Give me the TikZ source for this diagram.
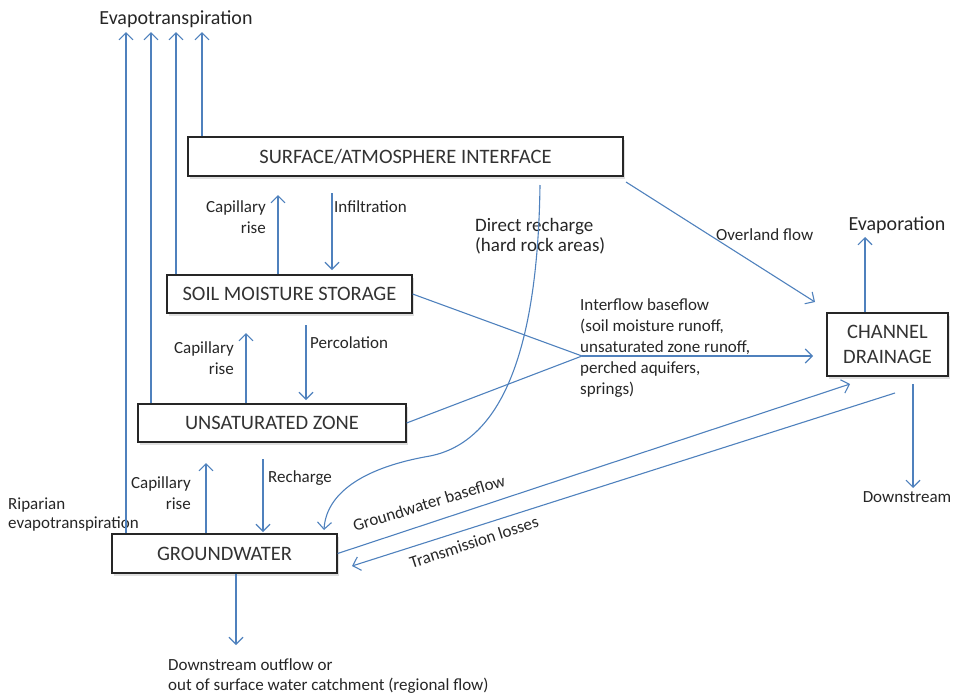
\documentclass[tikz,border=0pt]{standalone}
\usepackage{fontspec}
\setmainfont{Carlito}
\usetikzlibrary{arrows.meta,shadows}
\definecolor{flow}{RGB}{79,129,189}
\begin{document}
\begin{tikzpicture}[x=1pt,y=-1pt,
  box/.style={draw=black!85, line width=1.2pt, fill=white, inner sep=0pt,
    font=\fontsize{20.5}{24}\selectfont, text=black!80, align=center,
    drop shadow={opacity=0.25, shadow xshift=2pt, shadow yshift=-3pt}},
  arr/.style={draw=flow, line width=1.1pt, -{Straight Barb[length=7pt,width=14pt]}},
  ln/.style={draw=flow, line width=1.1pt},
  lab/.style={font=\fontsize{17}{21}\selectfont, text=black!85, inner sep=0pt},
  big/.style={font=\fontsize{20}{22}\selectfont, text=black!85, inner sep=0pt}
]
\useasboundingbox (0,0) rectangle (955,694);

% boxes
\node[box, minimum width=435pt, minimum height=39pt] (surf) at (405.5,156.5) {SURFACE/ATMOSPHERE INTERFACE};
\node[box, minimum width=245pt, minimum height=38pt] (soil) at (289.5,294) {SOIL MOISTURE STORAGE};
\node[box, minimum width=268pt, minimum height=38pt] (unsat) at (272,423) {UNSATURATED ZONE};
\node[box, minimum width=225pt, minimum height=39pt] (gw) at (224.5,553.5) {GROUNDWATER};
\node[box, minimum width=121pt, minimum height=63pt, font=\fontsize{20.5}{25}\selectfont] (chan) at (887.5,344.5) {CHANNEL\\DRAINAGE};

% labels
\node[big] (et) at (176,19) {Evapotranspiration};
\node[big] (evap) at (897,225) {Evaporation};
\node[lab, align=right, anchor=east] (cr1) at (266,217.5) {Capillary\\rise};
\node[lab, anchor=west] (inf) at (334,207) {Infiltration};
\node[big, align=left, anchor=west, font=\fontsize{19}{20}\selectfont] (dr) at (475,236) {Direct recharge\\(hard rock areas)};
\node[lab, anchor=west] (ov) at (716,235) {Overland flow};
\node[lab, align=left, anchor=west] (intf) at (580,348.5) {Interflow baseflow\\(soil moisture runoff,\\unsaturated zone runoff,\\perched aquifers,\\springs)};
\node[lab, align=right, anchor=east] (cr2) at (234,358.5) {Capillary\\rise};
\node[lab, anchor=west] (perc) at (310,343) {Percolation};
\node[lab, align=right, anchor=east] (cr3) at (191,493.5) {Capillary\\rise};
\node[lab, anchor=west] (rech) at (268,478) {Recharge};
\node[lab, align=left, anchor=west, font=\fontsize{17}{19}\selectfont] (rip) at (8,514.5) {Riparian\\evapotranspiration};
\node[lab, rotate=17] (gbf) at (429,503) {Groundwater baseflow};
\node[lab, rotate=18] (tl) at (474,542) {Transmission losses};
\node[lab] (ds) at (907,497) {Downstream};
\node[lab, align=left, anchor=west, font=\fontsize{17}{20}\selectfont] (dso) at (168,676) {Downstream outflow or\\out of surface water catchment (regional flow)};

% free ends
\coordinate (e1) at (126,32);
\coordinate (e2) at (151,32);
\coordinate (e3) at (176,32);
\coordinate (e4) at (202,32);
\coordinate (jn) at (582,356);

% evapotranspiration
\draw[arr] (gw.north -| e1) -- (e1);
\draw[arr] (unsat.north -| e2) -- (e2);
\draw[arr] (soil.north -| e3) -- (e3);
\draw[arr] (surf.north -| e4) -- (e4);

% vertical exchanges
\draw[arr] (soil.north -| 278,0) -- (278,195);
\draw[arr] (332,193) -- (332,270);
\draw[arr] (unsat.north -| 246,0) -- (246,333);
\draw[arr] (306,325) -- (306,400);
\draw[arr] (gw.north -| 206,0) -- (206,463);
\draw[arr] (263,459) -- (263,532);
\draw[arr] (gw.south -| 236,0) -- (236,645);

% overland flow
\draw[arr] (626,182) -- (815,302);

% interflow
\draw[ln] (soil.east) -- (jn);
\draw[ln] (unsat.east) -- (jn);
\draw[arr] (jn) -- (813,356);

% groundwater baseflow / transmission losses
\draw[arr] (gw.east) -- (850,384);
\draw[arr] (895,393) -- (352,566);

% channel
\draw[arr] (chan.north -| 865,0) -- (865,237);
\draw[arr] (913,384) -- (913,488);

% direct recharge
\draw[arr] (540,185) .. controls (538,330) and (510,440) .. (430,456)
  .. controls (360,468) and (326,495) .. (324,530);
\end{tikzpicture}
\end{document}
